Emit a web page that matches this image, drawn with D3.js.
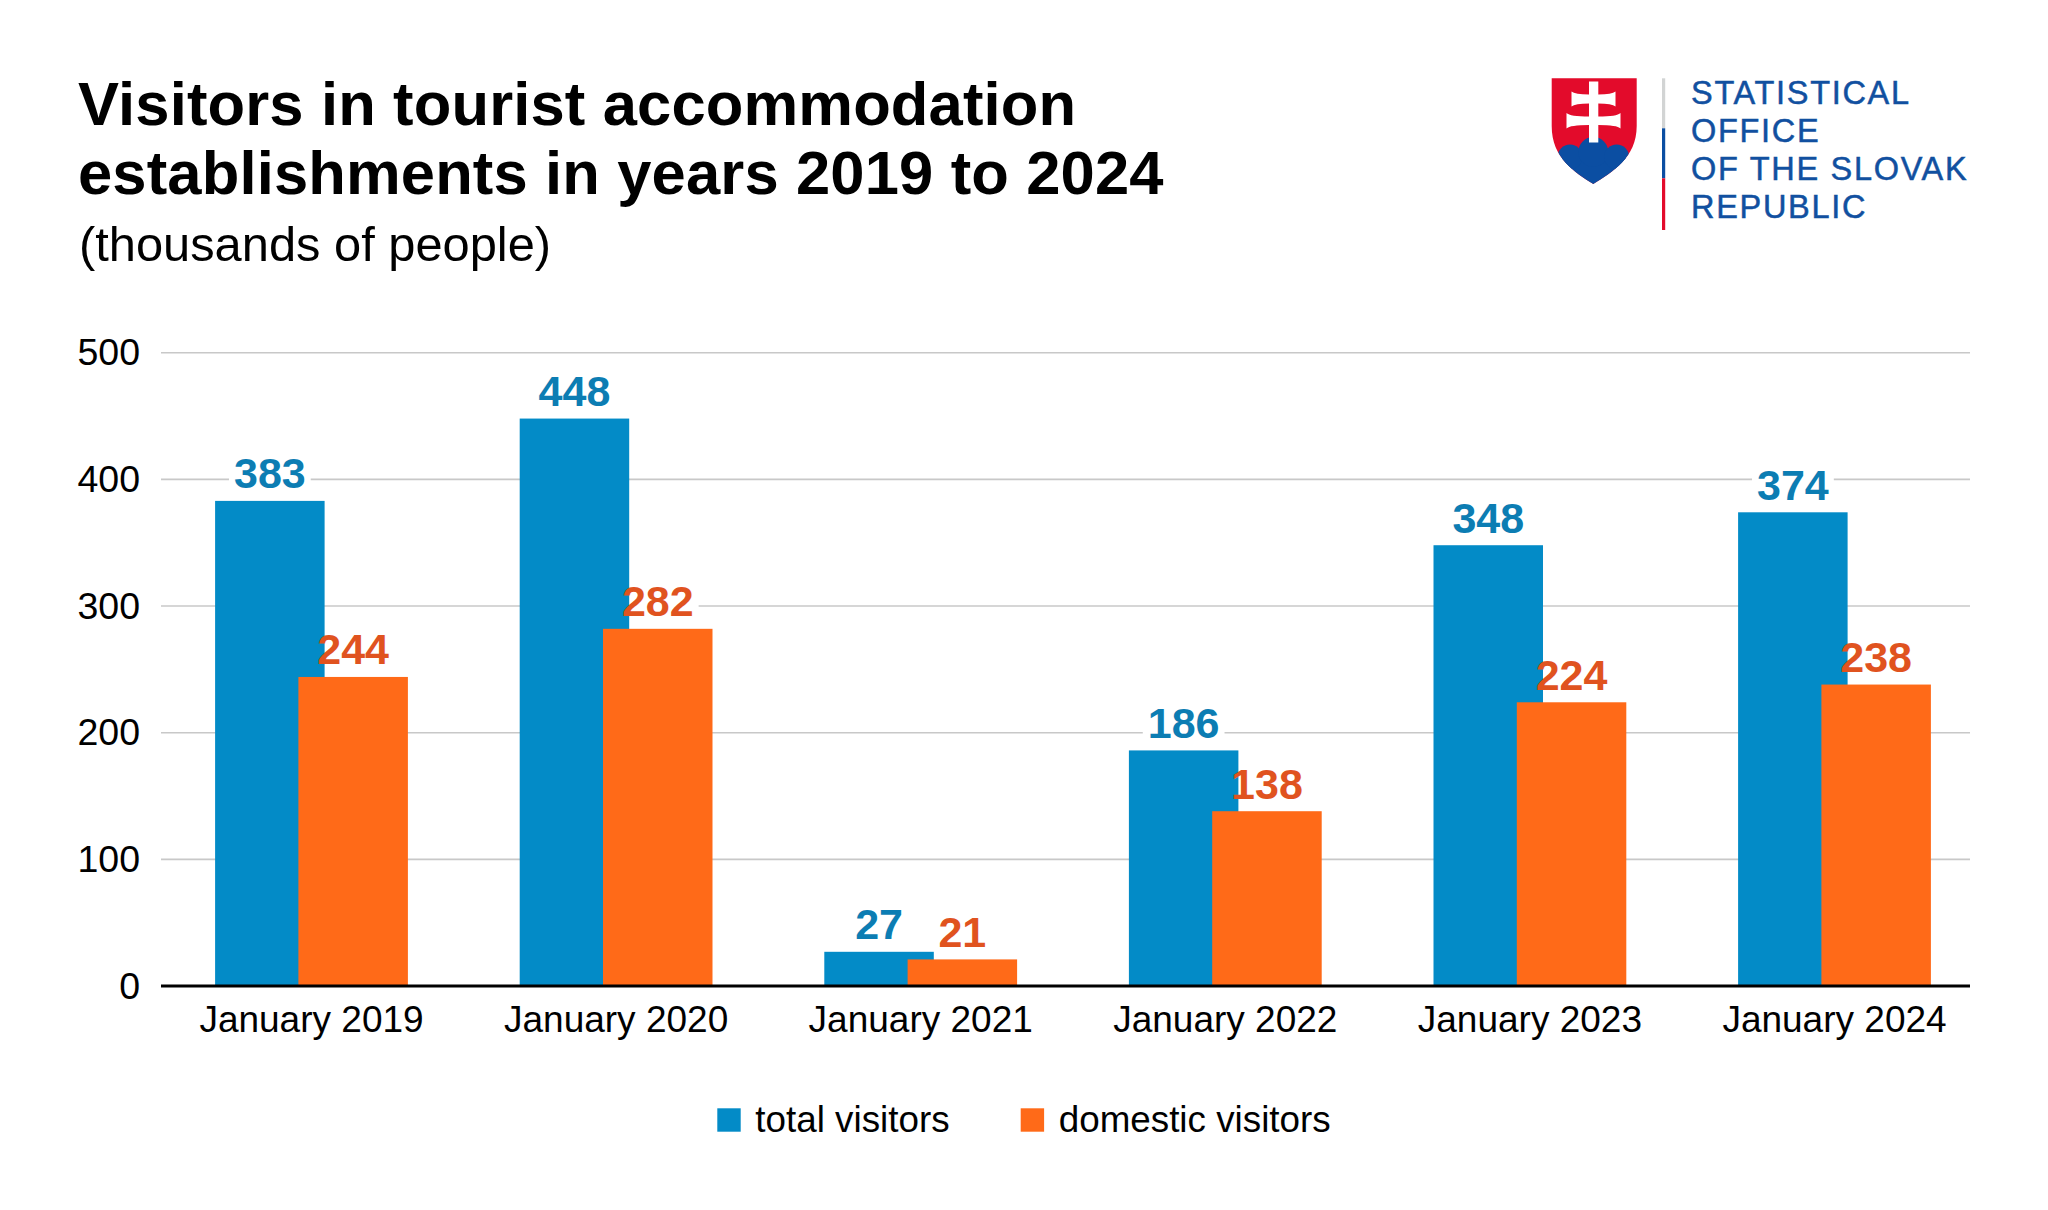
<!DOCTYPE html>
<html>
<head>
<meta charset="utf-8">
<script src="https://cdn.jsdelivr.net/npm/d3@7"></script>
<style>
  html, body { margin: 0; padding: 0; background: #ffffff; }
  svg { display: block; }
</style>
</head>
<body>
<script>
// ---- Data ----
const categories = ["January 2019", "January 2020", "January 2021", "January 2022", "January 2023", "January 2024"];
const totalVisitors = [383, 448, 27, 186, 348, 374];
const domesticVisitors = [244, 282, 21, 138, 224, 238];
const yTicks = [0, 100, 200, 300, 400, 500];
const seriesNames = ["total visitors", "domestic visitors"];
const titleLines = ["Visitors in tourist accommodation", "establishments in years 2019 to 2024"];
const subtitle = "(thousands of people)";
const logoLines = ["STATISTICAL", "OFFICE", "OF THE SLOVAK", "REPUBLIC"];

// ---- Styles ----
const W = 2048, H = 1210;
const FONT = "'Liberation Sans', Arial, Helvetica, sans-serif";
const BLUE = "#038bc7", ORANGE = "#ff6a18";
const BLUE_TXT = "#0c7db3", ORANGE_TXT = "#e0531f";
const plot = { left: 161, right: 1970, top: 352.7, bottom: 986 };

const svg = d3.select("body").append("svg").attr("width", W).attr("height", H);
svg.append("rect").attr("width", W).attr("height", H).attr("fill", "#fff");

// ---- Title ----
const tg = svg.append("g").attr("font-family", FONT).attr("fill", "#000");
tg.selectAll("text.title").data(titleLines).join("text")
  .attr("class", "title")
  .attr("x", 78).attr("y", (d, i) => 125 + i * 69)
  .attr("font-size", 61.5).attr("font-weight", "bold").attr("letter-spacing", 0.15)
  .text(d => d);
tg.append("text").attr("x", 79).attr("y", 261)
  .attr("font-size", 48.8).text(subtitle);

// ---- Scales ----
const y = d3.scaleLinear().domain([0, 500]).range([plot.bottom, plot.top]);
const step = 304.6;
const x = d3.scaleBand().domain(categories)
  .range([311.5 - step / 2, 311.5 - step / 2 + step * categories.length]).padding(0);
const barW = 109.5, offset = 83.3;
const center = c => x(c) + x.bandwidth() / 2;

// ---- Gridlines ----
svg.append("g").selectAll("line").data(yTicks.filter(t => t > 0)).join("line")
  .attr("x1", plot.left).attr("x2", plot.right)
  .attr("y1", d => y(d)).attr("y2", d => y(d))
  .attr("stroke", "#c8c8c8").attr("stroke-width", 1.6);

// ---- Y axis labels ----
const yAxis = d3.axisLeft(y).tickValues(yTicks).tickSize(0).tickPadding(21);
const yg = svg.append("g").attr("transform", `translate(${plot.left},0)`).call(yAxis);
yg.select(".domain").remove();
yg.selectAll("text").attr("font-family", FONT).attr("font-size", 37.5).attr("fill", "#000");

// ---- data rows ----
const rows = categories.map((c, i) => [
  { cat: c, v: totalVisitors[i], s: 0 },
  { cat: c, v: domesticVisitors[i], s: 1 }
]).flat();
const barX = d => center(d.cat) - barW / 2 + (d.s === 0 ? -offset / 2 : offset / 2);

// label backgrounds (hide gridlines behind labels)
const labelG = svg.append("g");
const bgG = labelG.append("g");

// ---- Bars ----
const bars = svg.append("g");
bars.selectAll("rect").data(rows.filter(d => d.s === 0).concat(rows.filter(d => d.s === 1))).join("rect")
  .attr("x", barX)
  .attr("y", d => y(d.v))
  .attr("width", barW)
  .attr("height", d => y(0) - y(d.v))
  .attr("fill", d => d.s === 0 ? BLUE : ORANGE);

// ---- Value labels ----
const txtG = svg.append("g");
const labels = txtG.selectAll("text").data(rows).join("text")
  .attr("x", d => barX(d) + barW / 2)
  .attr("y", d => y(d.v) - 12.5)
  .attr("text-anchor", "middle")
  .attr("font-family", FONT).attr("font-weight", "bold").attr("font-size", 43)
  .attr("fill", d => d.s === 0 ? BLUE_TXT : ORANGE_TXT)
  .text(d => d.v);
labels.each(function(d) {
  const b = this.getBBox();
  bgG.append("rect").attr("x", b.x - 5).attr("y", b.y).attr("width", b.width + 10).attr("height", b.height)
    .attr("fill", "#fff");
});

// ---- X axis ----
const xAxis = d3.axisBottom(x).tickSize(0).tickPadding(20);
const xg = svg.append("g").attr("transform", `translate(0,${plot.bottom})`).call(xAxis);
xg.select(".domain").remove();
xg.selectAll("text").attr("font-family", FONT).attr("font-size", 37).attr("fill", "#000");
svg.append("line").attr("x1", plot.left).attr("x2", plot.right)
  .attr("y1", plot.bottom).attr("y2", plot.bottom)
  .attr("stroke", "#000").attr("stroke-width", 3.2);

// ---- Legend ----
const legX = [717.3, 1020.7];
const lg = svg.append("g").selectAll("g").data(seriesNames).join("g")
  .attr("transform", (d, i) => `translate(${legX[i]},1108.3)`);
lg.append("rect").attr("width", 23.4).attr("height", 23.4).attr("fill", (d, i) => i === 0 ? BLUE : ORANGE);
lg.append("text").attr("x", 38).attr("y", 23.4)
  .attr("font-family", FONT).attr("font-size", 36.8).attr("fill", "#000").text(d => d);

// ---- Logo ----
const logo = svg.append("g");
const shieldPath = "M1551.7,78.3 L1636.7,78.3 L1636.7,126 C1636.7,158 1612,172 1593.3,184 C1574.6,172 1551.7,158 1551.7,126 Z";
const defs = svg.append("defs");
defs.append("clipPath").attr("id", "shieldClip").append("path").attr("d", shieldPath);
logo.append("path").attr("d", shieldPath).attr("fill", "#e30b2b");
const hills = logo.append("g").attr("clip-path", "url(#shieldClip)").attr("fill", "#0b4ea2");
hills.append("rect").attr("x", 1545).attr("y", 158).attr("width", 100).attr("height", 40);
[[1570, 157, 12.5], [1593.3, 152, 15], [1616.7, 157, 12.5]].forEach(c => {
  hills.append("circle").attr("cx", c[0]).attr("cy", c[1]).attr("r", c[2]);
});
// double cross
const cross = logo.append("g").attr("fill", "#fff");
cross.append("rect").attr("x", 1589).attr("y", 81.5).attr("width", 9.3).attr("height", 61);
cross.append("path").attr("d", "M1571.5,91.5 Q1575,94.5 1589,94.5 L1598.3,94.5 Q1612,94.5 1615.5,91.5 L1615.5,106.5 Q1612,103.5 1598.3,103.5 L1589,103.5 Q1575,103.5 1571.5,106.5 Z");
cross.append("path").attr("d", "M1566.5,113 Q1570,116.5 1589,116.5 L1598.3,116.5 Q1617,116.5 1620.5,113 L1620.5,128.5 Q1617,125 1598.3,125 L1589,125 Q1570,125 1566.5,128.5 Z");
// vertical divider
const divSegs = [["#d2d4d4", 78.3, 128.3], ["#0b4ea2", 128.3, 178.3], ["#e30b2b", 178.3, 230]];
logo.selectAll("rect.div").data(divSegs).join("rect").attr("class", "div")
  .attr("x", 1662).attr("width", 3.2).attr("y", d => d[1]).attr("height", d => d[2] - d[1]).attr("fill", d => d[0]);
const logoText = logo.append("text")
  .attr("font-family", FONT)
  .attr("font-size", 32.5).attr("letter-spacing", 1.7).attr("fill", "#1150a0")
  .attr("stroke", "#1150a0").attr("stroke-width", 0.5);
logoText.selectAll("tspan").data(logoLines).join("tspan")
  .attr("x", 1691).attr("y", (d, i) => 103.5 + i * 38)
  .text(d => d);
</script>
</body>
</html>
